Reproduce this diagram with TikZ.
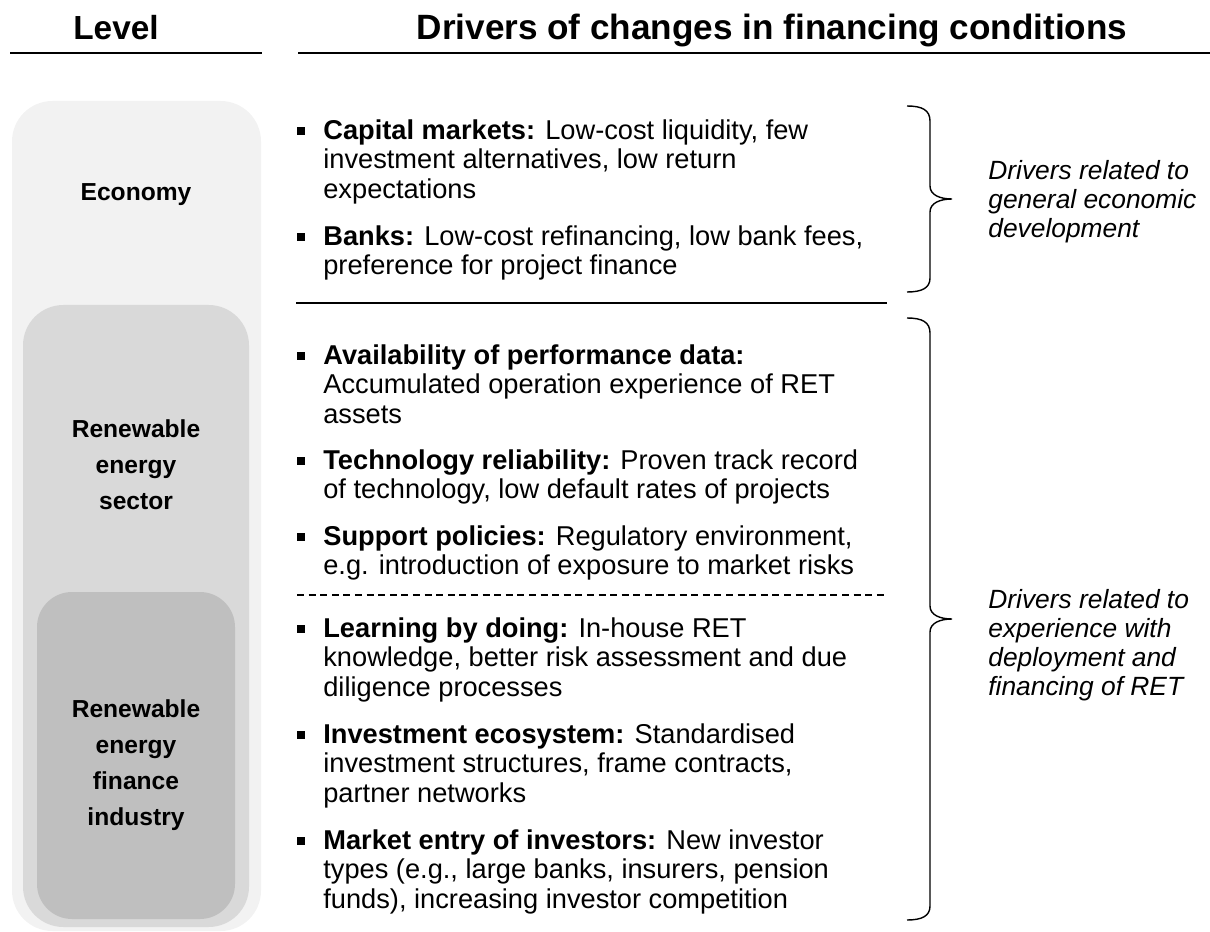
\documentclass[tikz,border=0pt]{standalone}
\usepackage{fontspec}
\setmainfont{Liberation Sans}
\usetikzlibrary{positioning}

\definecolor{lvlouter}{HTML}{F2F2F2}
\definecolor{lvlmid}{HTML}{D9D9D9}
\definecolor{lvlinner}{HTML}{BFBFBF}

\begin{document}
\begin{tikzpicture}[x=0.02cm, y=-0.02cm,
    head/.style={font=\fontsize{19}{22}\selectfont\bfseries, inner sep=0pt, anchor=base},
    lvl/.style={font=\fontsize{14}{20.5}\selectfont\bfseries, align=center},
    drv/.style={font=\fontsize{15.5}{17}\selectfont, align=left, anchor=north west, inner sep=0pt},
    bul/.style={fill=black, minimum size=4pt, inner sep=0pt},
    note/.style={font=\fontsize{15}{16.5}\selectfont\itshape, align=left, anchor=west, inner sep=0pt},
    sepline/.style={line width=0.9pt},
    brc/.style={line width=0.8pt}]
    \useasboundingbox (0,0) rectangle (1210,932);

    % level boxes
    \fill[lvlouter, rounded corners=23pt] (12,101) rectangle (261,931);
    \fill[lvlmid, rounded corners=23pt] (23,305) rectangle (249,927);
    \fill[lvlinner, rounded corners=20pt] (37,592) rectangle (235,919);
    \node[lvl] (econ) at (136,195) {Economy};
    \node[lvl] (sector) at (136,465) {Renewable\\energy\\sector};
    \node[lvl] (industry) at (136,765) {Renewable\\energy\\finance\\industry};

    % headings
    \node[head] (level) at (116,40) {Level};
    \node[head, font=\fontsize{20}{24}\selectfont\bfseries] (drivers) at (772,40) {Drivers of changes in financing conditions};
    \coordinate (hl1) at (10,53);
    \coordinate (hl2) at (262,53);
    \coordinate (hr1) at (298,53);
    \coordinate (hr2) at (1210,53);
    \draw[sepline] (hl1) -- (hl2);
    \draw[sepline] (hr1) -- (hr2);

    % drivers
    \node[drv] (capm) at (323,119) {\textbf{Capital markets:} Low-cost liquidity, few\\investment alternatives, low return\\expectations};
    \node[drv] (banks) at (323,225) {\textbf{Banks:} Low-cost refinancing, low bank fees,\\preference for project finance};
    \node[drv] (avail) at (323,344) {\textbf{Availability of performance data:}\\Accumulated operation experience of RET\\assets};
    \node[drv] (tech) at (323,449) {\textbf{Technology reliability:} Proven track record\\of technology, low default rates of projects};
    \node[drv] (policy) at (323,525) {\textbf{Support policies:} Regulatory environment,\\e.g. introduction of exposure to market risks};
    \node[drv] (learn) at (323,617) {\textbf{Learning by doing:} In-house RET\\knowledge, better risk assessment and due\\diligence processes};
    \node[drv] (ecosys) at (323,723) {\textbf{Investment ecosystem:} Standardised\\investment structures, frame contracts,\\partner networks};
    \node[drv] (entry) at (323,829) {\textbf{Market entry of investors:} New investor\\types (e.g., large banks, insurers, pension\\funds), increasing investor competition};
    \foreach \y [count=\i] in {131,237,356,461,537,629,735,841}
        \node[bul] (b\i) at (301,\y) {};

    % separators
    \coordinate (s1) at (296,303);
    \coordinate (s2) at (887,303);
    \coordinate (d1) at (297,595);
    \coordinate (d2) at (887,595);
    \draw[sepline] (s1) -- (s2);
    \draw[line width=0.8pt, dash pattern=on 4pt off 2.6pt] (d1) -- (d2);

    % braces
    \draw[brc] (907,106) .. controls (922,106) and (930,110) .. (930,121) -- (930,186)
        .. controls (930,195) and (940,199) .. (952,199)
        .. controls (940,199) and (930,203) .. (930,212) -- (930,278)
        .. controls (930,288) and (922,292) .. (907,292);
    \draw[brc] (907,318) .. controls (922,318) and (930,322) .. (930,333) -- (930,606)
        .. controls (930,615) and (940,619) .. (952,619)
        .. controls (940,619) and (930,623) .. (930,632) -- (930,906)
        .. controls (930,916) and (922,920) .. (907,920);
    \node[note] (general) at (988,202) {Drivers related to\\general economic\\development};
    \node[note] (experience) at (988,645) {Drivers related to\\experience with\\deployment and\\financing of RET};
\end{tikzpicture}
\end{document}
